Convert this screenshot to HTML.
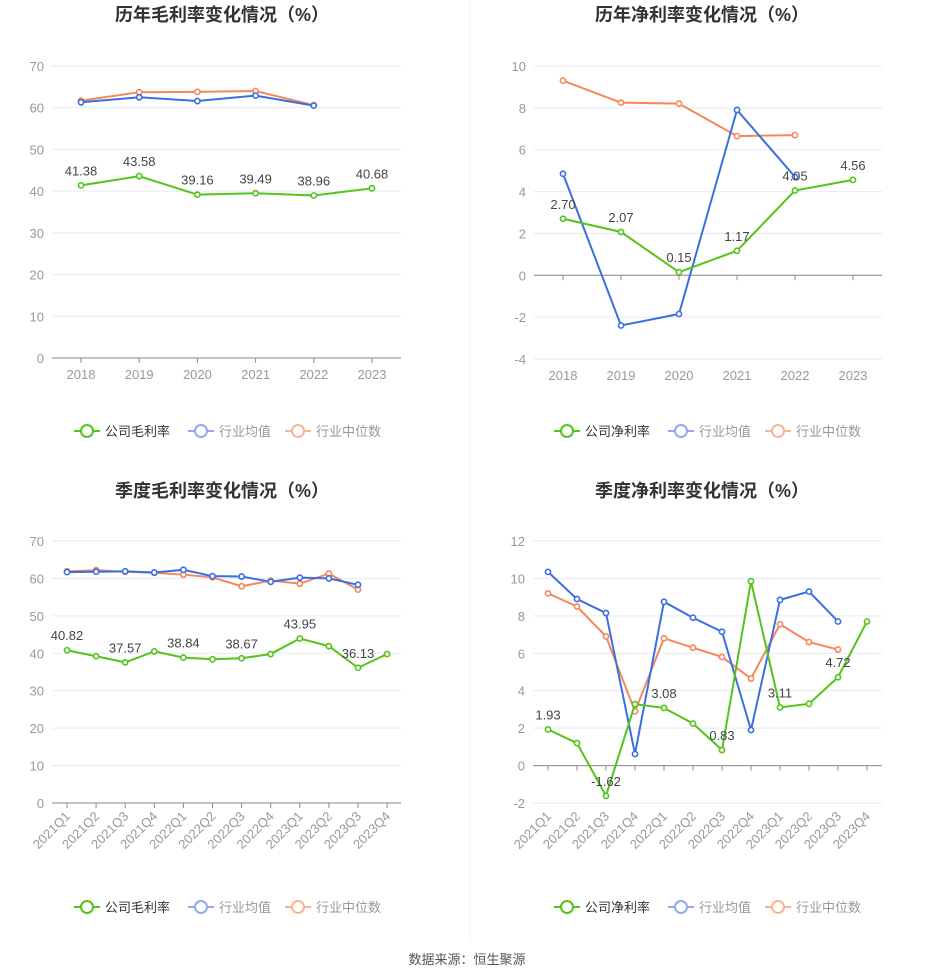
<!DOCTYPE html>
<html><head><meta charset="utf-8"><style>
body{margin:0;background:#fff;width:935px;height:979px;overflow:hidden;font-family:"Liberation Sans","Noto Sans CJK SC",sans-serif;}
svg{position:absolute;left:0;top:0}
</style></head><body>
<svg id="s" width="935" height="979" xmlns="http://www.w3.org/2000/svg"></svg>
<script>
const yearCats=["2018","2019","2020","2021","2022","2023"];
const qCats=["2021Q1","2021Q2","2021Q3","2021Q4","2022Q1","2022Q2","2022Q3","2022Q4","2023Q1","2023Q2","2023Q3","2023Q4"];
const yGrossCo=[41.38,43.58,39.16,39.49,38.96,40.68];
const yGrossAvg=[61.3,62.5,61.6,62.9,60.5];
const yGrossMed=[61.7,63.7,63.8,64.0,60.6];
const yNetCo=[2.70,2.07,0.15,1.17,4.05,4.56];
const yNetAvg=[4.85,-2.4,-1.85,7.9,4.7];
const yNetMed=[9.3,8.25,8.2,6.65,6.7];
const qGrossCo=[40.82,39.2,37.57,40.5,38.84,38.4,38.67,39.8,43.95,41.9,36.13,39.8];
const qGrossAvg=[61.7,61.8,61.9,61.6,62.3,60.6,60.5,59.1,60.2,60.0,58.3];
const qGrossMed=[61.9,62.2,61.8,61.5,61.0,60.3,57.9,59.4,58.6,61.3,57.0];
const qNetCo=[1.93,1.2,-1.62,3.28,3.08,2.25,0.83,9.85,3.11,3.3,4.72,7.7];
const qNetAvg=[10.35,8.9,8.15,0.62,8.75,7.9,7.15,1.9,8.85,9.3,7.7];
const qNetMed=[9.2,8.5,6.9,2.9,6.8,6.3,5.8,4.65,7.55,6.6,6.2];
const grossTicks=[0,10,20,30,40,50,60,70];
const netYTicks=[-4,-2,0,2,4,6,8,10];
const netQTicks=[-2,0,2,4,6,8,10,12];
const yLabelIdx=[0,1,2,3,4,5];
const qLabelIdx=[0,2,4,6,8,10];

const NS="http://www.w3.org/2000/svg";
const svg=document.getElementById('s');
function mk(tag,attrs,parent,text){const e=document.createElementNS(NS,tag);for(const k in attrs)e.setAttribute(k,attrs[k]);if(text!==undefined)e.textContent=text;(parent||svg).appendChild(e);return e;}
const GREEN="#52c41a",BLUE="#3b6fe0",ORANGE="#f5875a";

function chart(o){
  const g=mk('g',{});
  
  
  const tmin=o.ticks[0],tmax=o.ticks[o.ticks.length-1];
  const Y=v=>o.yTop+(tmax-v)/(tmax-tmin)*(o.yBot-o.yTop);
  const X=i=>o.x0+i*o.dx;
  const t=mk('text',{x:o.cx,y:o.ty,'text-anchor':'middle','font-size':18,'font-weight':'bold',fill:'#333'},g,o.title);
  
  
  o.ticks.forEach(v=>{
    if(v!==0||tmin===0){}
    const gl=mk('line',{x1:o.pl,x2:o.pr,y1:Y(v),y2:Y(v),stroke:'#e6eaf3','stroke-width':1},g);
    
    
    const tl=mk('text',{x:o.pl-8,y:Y(v)+5,'text-anchor':'end','font-size':13,fill:'#999'},g,String(v));
    
    
  });
  const ax=mk('line',{x1:o.pl,x2:o.pr,y1:Y(0),y2:Y(0),stroke:'#888','stroke-width':1},g);
  
  
  o.cats.forEach((c,i)=>{
    mk('line',{x1:X(i),x2:X(i),y1:Y(0),y2:Y(0)+5,stroke:'#888'},g);
    let tl;
    if(o.rot){
      tl=mk('text',{x:X(i)+4,y:o.yBot+14,'text-anchor':'end','font-size':13,fill:'#999',transform:`rotate(-45 ${X(i)+4} ${o.yBot+14})`},g,c);
    } else {
      tl=mk('text',{x:X(i),y:o.yBot+21,'text-anchor':'middle','font-size':13,fill:'#999'},g,c);
    }
    
    
  });
  const series=[[o.med,ORANGE,'industry-median-line'],[o.avg,BLUE,'industry-average-line'],[o.co,GREEN,'company-line']];
  series.forEach(([d,col,nm])=>{
    const p=mk('polyline',{points:d.map((v,i)=>X(i)+','+Y(v)).join(' '),fill:'none',stroke:col,'stroke-width':2},g);
    
    
    d.forEach((v,i)=>{
      const c=mk('circle',{cx:X(i),cy:Y(v),r:2.6,fill:'#fff',stroke:col,'stroke-width':1.6},g);
      
      
    });
  });
  o.labels.forEach(i=>{
    const l=mk('text',{x:X(i),y:Y(o.co[i])-10,'text-anchor':'middle','font-size':13,fill:'#444'},g,o.co[i].toFixed(2));
    
    
  });
  // legend
  const lg=mk('g',{},g);
  
  
  const items=[[o.coName,GREEN,'#333',o.lx],['行业均值','#8eaaf0','#999',o.lx+114],['行业中位数','#f8b496','#999',o.lx+211]];
  items.forEach(([n,col,tc,x])=>{
    const it=mk('g',{},lg);
    
    
    mk('line',{x1:x,x2:x+26,y1:o.ly,y2:o.ly,stroke:col,'stroke-width':2},it);
    mk('circle',{cx:x+13,cy:o.ly,r:6,fill:'#fff',stroke:col,'stroke-width':2},it);
    mk('text',{x:x+31,y:o.ly+5,'font-size':13,fill:tc},it,n);
  });
}
chart({name:'annual-gross-margin-chart',title:'历年毛利率变化情况（%）',cx:222,ty:21,ticks:grossTicks,yTop:66,yBot:358,pl:52,pr:401,x0:81,dx:58.2,cats:yearCats,co:yGrossCo,avg:yGrossAvg,med:yGrossMed,labels:yLabelIdx,rot:false,coName:'公司毛利率',lx:74,ly:431});
chart({name:'annual-net-margin-chart',title:'历年净利率变化情况（%）',cx:702,ty:21,ticks:netYTicks,yTop:66,yBot:359,pl:534,pr:882,x0:563,dx:58,cats:yearCats,co:yNetCo,avg:yNetAvg,med:yNetMed,labels:yLabelIdx,rot:false,coName:'公司净利率',lx:554,ly:431});
chart({name:'quarterly-gross-margin-chart',title:'季度毛利率变化情况（%）',cx:222,ty:497,ticks:grossTicks,yTop:541,yBot:803,pl:52,pr:401,x0:67,dx:29.1,cats:qCats,co:qGrossCo,avg:qGrossAvg,med:qGrossMed,labels:qLabelIdx,rot:true,coName:'公司毛利率',lx:74,ly:907});
chart({name:'quarterly-net-margin-chart',title:'季度净利率变化情况（%）',cx:702,ty:497,ticks:netQTicks,yTop:541,yBot:803,pl:533,pr:882,x0:548,dx:29,cats:qCats,co:qNetCo,avg:qNetAvg,med:qNetMed,labels:qLabelIdx,rot:true,coName:'公司净利率',lx:554,ly:907});
const dv=mk('line',{x1:470,x2:470,y1:0,y2:940,stroke:'#f0f0f0'});


const ft=mk('text',{x:467,y:964,'text-anchor':'middle','font-size':13,fill:'#555'},svg,'数据来源：恒生聚源');


</script>
</body></html>
